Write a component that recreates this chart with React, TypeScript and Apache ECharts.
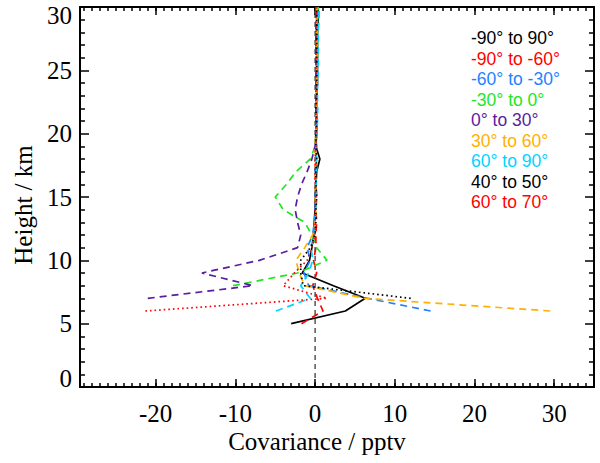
import React, { useEffect, useRef } from "react";
import * as echarts from "echarts";

// Heights (km) of the profile levels
const heights = [5, 6, 7, 8, 9, 10, 11, 12, 13, 14, 15, 16, 17, 18, 19, 20, 21, 22, 23, 24, 25, 26, 27, 28, 29, 30];

// Covariance (pptv) per level; null = no value
const g90to90 = [-3.0, 3.8, 6.3, 2.3, -1.6, -0.7, -0.4, -0.2, -0.1, 0.0, 0.0, 0.1, 0.2, 0.6, 0.1, 0.2, 0.2, 0.2, 0.2, 0.3, 0.3, 0.3, 0.3, 0.3, 0.4, 0.4];
const s90to60 = [-1.7, 1.0, 0.3, -0.3, 0.2, -0.2, 0.1, 0.1, 0.2, 0.1, 0.2, 0.1, 0.2, 0.1, 0.1, 0.1, 0.2, 0.1, 0.2, 0.1, 0.2, 0.1, 0.2, 0.1, 0.2, 0.1];
const s60to30 = [null, 14.5, 6.6, -0.8, -1.4, -0.6, -1.0, -0.3, -0.1, 0.0, 0.0, 0.1, 0.0, 0.1, 0.2, 0.1, 0.2, 0.3, 0.2, 0.3, 0.2, 0.3, 0.3, 0.3, 0.4, 0.4];
const s30to0 = [null, null, null, -10.3, -2.2, 1.5, 0.2, -0.4, -1.3, -4.0, -5.0, -3.6, -2.4, -0.6, 0.0, 0.1, 0.2, 0.3, 0.2, 0.3, 0.2, 0.3, 0.3, 0.3, 0.3, 0.4];
const n0to30 = [null, null, -21.0, -7.8, -14.2, -7.0, -2.2, -1.8, -2.2, -2.5, -2.2, -1.7, -1.0, -0.4, 0.0, 0.1, 0.1, 0.1, 0.1, 0.1, 0.1, 0.1, 0.1, 0.1, 0.1, 0.1];
const n30to60 = [null, 29.5, 6.2, -1.3, -2.0, -2.4, -1.3, -0.3, 0.0, 0.1, 0.0, 0.1, 0.0, 0.1, 0.0, 0.1, 0.1, 0.2, 0.1, 0.2, 0.2, 0.2, 0.2, 0.2, 0.2, 0.2];
const n60to90 = [null, -4.9, -0.6, -1.8, -0.8, -0.3, -0.5, -0.1, 0.0, 0.1, 0.2, 0.1, 0.2, 0.2, 0.1, 0.2, 0.3, 0.3, 0.3, 0.3, 0.4, 0.4, 0.4, 0.4, 0.5, 0.5];
const n40to50 = [null, null, 12.0, -1.5, -1.8, -1.8, -0.6, 0.0, 0.1, 0.1, 0.2, 0.1, 0.1, 0.2, 0.1, 0.1, 0.2, 0.1, 0.2, 0.2, 0.2, 0.2, 0.2, 0.2, 0.2, 0.2];
const n60to70 = [null, -21.3, 1.5, -4.0, -2.6, -1.0, -0.4, 0.0, 0.0, 0.0, 0.1, 0.0, 0.0, 0.0, 0.1, 0.1, 0.1, 0.1, 0.1, 0.1, 0.1, 0.1, 0.1, 0.1, 0.1, 0.1];

const seriesNames = [
  "-90° to 90°",
  "-90° to -60°",
  "-60° to -30°",
  "-30° to 0°",
  "0° to 30°",
  "30° to 60°",
  "60° to 90°",
  "40° to 50°",
  "60° to 70°",
];
const seriesValues = [g90to90, s90to60, s60to30, s30to0, n0to30, n30to60, n60to90, n40to50, n60to70];
const seriesColors = ["#000000", "#FF0000", "#1E82FF", "#22E622", "#5A1E9E", "#FFB000", "#00D4FF", "#000000", "#FF0000"];
const seriesStyles = ["solid", "dashed", "dashed", "dashed", "dashed", "dashed", "dashed", "dotted", "dotted"];

const xMajorTicks = [-20, -10, 0, 10, 20, 30];
const xMinorTicks: number[] = [];
for (let v = -29; v <= 35; v++) xMinorTicks.push(v);

const SERIF = "'Liberation Serif', 'Times New Roman', serif";
const SANS = "'Liberation Sans', Arial, sans-serif";

export default function App() {
  const ref = useRef<HTMLDivElement>(null);
  useEffect(() => {
    document.body.style.margin = "0";
    const chart = echarts.init(ref.current!, null, { renderer: "svg" });

    const dashFor = (s: string) => (s === "solid" ? "solid" : s === "dashed" ? [7, 5] : [1.6, 3]);

    const lineSeries = seriesNames.map((name, i) => ({
      name,
      type: "line",
      xAxisIndex: 0,
      yAxisIndex: 0,
      showSymbol: false,
      symbol: "none",
      silent: true,
      data: heights
        .map((h, k) => [seriesValues[i][k], h])
        .filter((p) => p[0] !== null),
      lineStyle: { color: seriesColors[i], width: 1.7, type: dashFor(seriesStyles[i]) },
      z: 3,
    }));

    const baseX = { type: "value", min: -29.5, max: 35, splitLine: { show: false } };
    const tickLine = { color: "#000", width: 1.5 };

    chart.setOption({
      animation: false,
      grid: { left: 80, right: 6, top: 7, bottom: 76, containLabel: false },
      xAxis: [
        {
          ...baseX,
          position: "bottom",
          axisLine: { show: true, onZero: false, lineStyle: { color: "#000", width: 2 } },
          axisTick: { show: true, inside: true, length: 8, customValues: xMajorTicks, lineStyle: tickLine },
          axisLabel: {
            customValues: xMajorTicks,
            color: "#000",
            fontFamily: SERIF,
            fontSize: 25,
            margin: 14,
          },
        },
        {
          ...baseX,
          position: "bottom",
          axisLine: { show: false, onZero: false },
          axisTick: { show: true, inside: true, length: 4, customValues: xMinorTicks, lineStyle: tickLine },
          axisLabel: { show: false },
        },
        {
          ...baseX,
          position: "top",
          axisLine: { show: true, onZero: false, lineStyle: { color: "#000", width: 2 } },
          axisTick: { show: true, inside: true, length: 8, customValues: xMajorTicks, lineStyle: tickLine },
          axisLabel: { show: false },
        },
        {
          ...baseX,
          position: "top",
          axisLine: { show: false, onZero: false },
          axisTick: { show: true, inside: true, length: 4, customValues: xMinorTicks, lineStyle: tickLine },
          axisLabel: { show: false },
        },
      ],
      yAxis: [
        {
          type: "value",
          min: 0,
          max: 30,
          interval: 5,
          position: "left",
          splitLine: { show: false },
          axisLine: { show: true, onZero: false, lineStyle: { color: "#000", width: 2 } },
          axisTick: { show: true, inside: true, length: 9, lineStyle: tickLine },
          minorTick: { show: true, splitNumber: 5, length: 5, lineStyle: tickLine },
          axisLabel: {
            margin: 8,
            formatter: (v: number) => (v === 0 ? "{b|0}" : v === 30 ? "{t|30}" : "{n|" + v + "}"),
            rich: {
              n: { fontFamily: SERIF, fontSize: 25, color: "#000" },
              b: { fontFamily: SERIF, fontSize: 25, color: "#000", padding: [0, 0, 18, 0] },
              t: { fontFamily: SERIF, fontSize: 25, color: "#000", padding: [16, 0, 0, 0] },
            },
          },
        },
        {
          type: "value",
          min: 0,
          max: 30,
          interval: 5,
          position: "right",
          splitLine: { show: false },
          axisLine: { show: true, onZero: false, lineStyle: { color: "#000", width: 2 } },
          axisTick: { show: true, inside: true, length: 9, lineStyle: tickLine },
          minorTick: { show: true, splitNumber: 5, length: 5, lineStyle: tickLine },
          axisLabel: { show: false },
        },
      ],
      series: [
        {
          name: "zero",
          type: "line",
          showSymbol: false,
          symbol: "none",
          silent: true,
          data: [
            [0, 0],
            [0, 30],
          ],
          lineStyle: { color: "#000", width: 1, type: [5, 4] },
          z: 2,
        },
        ...lineSeries,
      ],
      graphic: [
        {
          type: "text",
          x: 23,
          y: 205,
          rotation: Math.PI / 2,
          style: {
            text: "Height / km",
            fontFamily: SERIF,
            fontSize: 25,
            fill: "#000",
            textAlign: "center",
            textVerticalAlign: "middle",
          },
        },
        {
          type: "text",
          x: 317,
          y: 441,
          style: {
            text: "Covariance / pptv",
            fontFamily: SERIF,
            fontSize: 25,
            fill: "#000",
            textAlign: "center",
            textVerticalAlign: "middle",
          },
        },
        ...seriesNames.map((name, i) => ({
          type: "text",
          x: 471,
          y: 38 + i * 20.5,
          style: {
            text: name,
            fontFamily: SANS,
            fontSize: 17.5,
            fill: seriesColors[i],
            textAlign: "left",
            textVerticalAlign: "middle",
          },
        })),
      ],
    });
    return () => chart.dispose();
  }, []);
  return <div ref={ref} style={{ width: 600, height: 463 }} />;
}
